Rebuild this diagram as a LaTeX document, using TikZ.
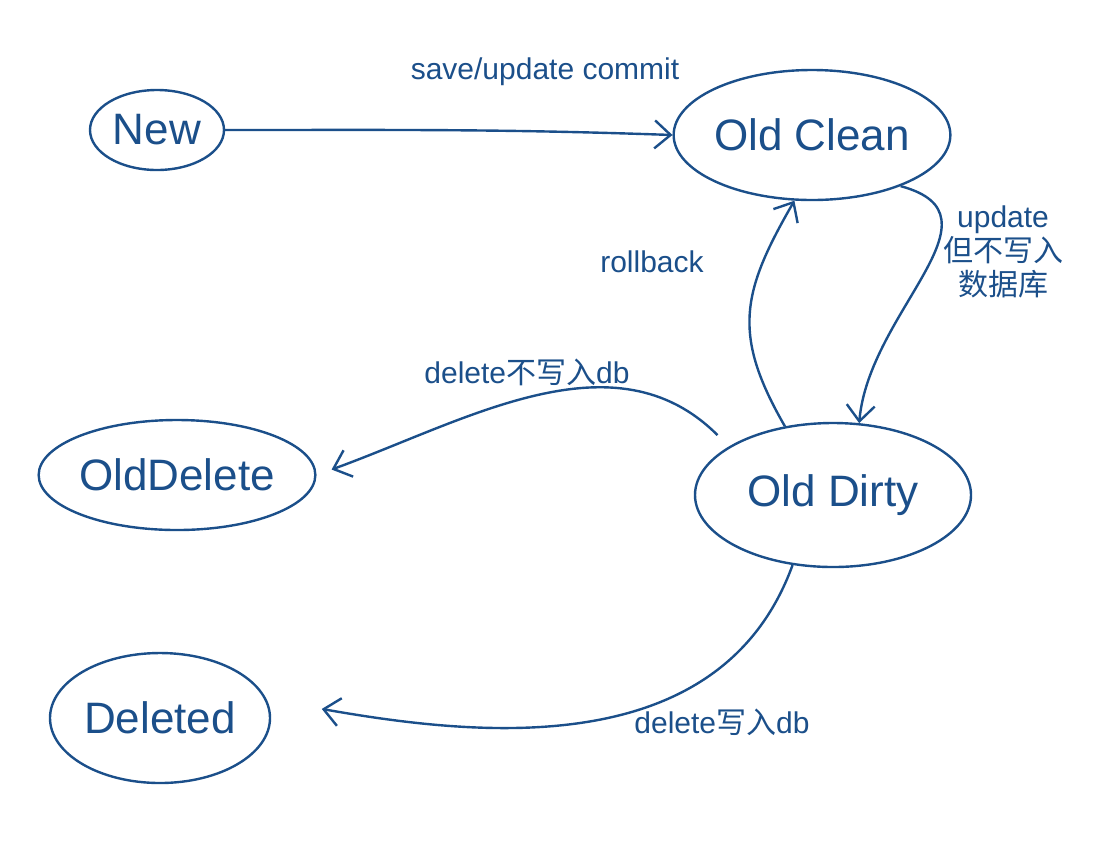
\documentclass[tikz,border=0pt]{standalone}
\usepackage{fontspec}
\setmainfont{Liberation Sans}
\newfontfamily\cjk{Noto Sans CJK SC}
\usetikzlibrary{shapes.geometric, arrows.meta}
\definecolor{ink}{HTML}{1B4F8A}
\tikzset{
  state/.style={ellipse, draw=ink, line width=1.2pt, text=ink, inner sep=0pt,
    font=\fontsize{22}{26}\selectfont},
  trans/.style={draw=ink, line width=1.2pt, -{Straight Barb[length=8pt,width=14pt]}},
  lbl/.style={text=ink, font=\fontsize{15}{17}\selectfont, align=center}
}
\begin{document}
\begin{tikzpicture}[x=0.5pt,y=-0.5pt]
  \useasboundingbox (0,0) rectangle (1106,853);
  % States
  \node[state, minimum width=67pt, minimum height=40pt] (new) at (157,130) {New};
  \node[state, minimum width=110pt, minimum height=65pt] (clean) at (812,135) {Old Clean};
  \node[state, minimum width=116pt, minimum height=55pt] (odel) at (177,475) {OldDelete};
  \node[state, minimum width=138pt, minimum height=72pt] (dirty) at (833,495) {Old Dirty};
  \node[state, minimum width=110pt, minimum height=65pt] (deleted) at (160,718) {Deleted};
  % Transitions
  \draw[trans] (new.east) to[out=0,in=178] (clean.west);
  \node[lbl] (l1) at (545,72) {save/update commit};
  \draw[trans] (clean.-30) to[out=-15,in=85,looseness=1.2] (dirty.70);
  \node[lbl] (l2) at (1003,252) {update\\{\cjk 但不写入}\\{\cjk 数据库}};
  \draw[trans] (dirty.125) to[out=120,in=-120,looseness=1.2] (clean.-105);
  \node[lbl] (l3) at (652,262) {rollback};
  \draw[trans, shorten >=8pt, shorten <=8pt] (dirty.155) to[out=135,in=20] (odel.east);
  \node[lbl] (l4) at (527,372) {delete{\cjk 不写入}db};
  \draw[trans, shorten >=28pt] (dirty.-120) to[out=-110,in=-10] (deleted.10);
  \node[lbl] (l5) at (722,722) {delete{\cjk 写入}db};
\end{tikzpicture}
\end{document}
